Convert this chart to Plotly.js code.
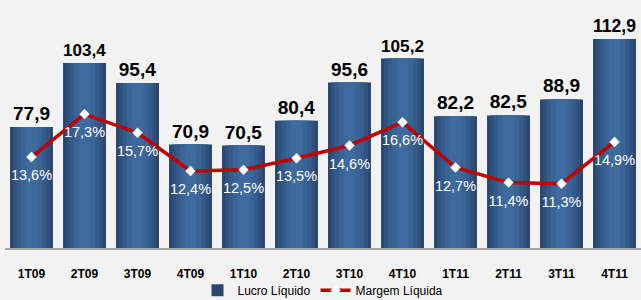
<!DOCTYPE html>
<html><head><meta charset="utf-8">
<script src="https://cdn.plot.ly/plotly-3.0.1.min.js"></script>
<style>html,body{margin:0;padding:0;background:#f2f2f2;}#chart{width:641px;height:300px;}</style>
</head><body><div id="chart"></div>
<script>
const categories = ["1T09","2T09","3T09","4T09","1T10","2T10","3T10","4T10","1T11","2T11","3T11","4T11"];
const lucroLiquido = [77.9,103.4,95.4,70.9,70.5,80.4,95.6,105.2,82.2,82.5,88.9,112.9];
const margemLiquida = [13.6,17.3,15.7,12.4,12.5,13.5,14.6,16.6,12.7,11.4,11.3,14.9];

const layers = [
  {w:0.81, c:"#2a4670"},
  {w:0.70, c:"#2f517e"},
  {w:0.56, c:"#355b8b"},
  {w:0.40, c:"#3a6496"},
  {w:0.22, c:"#3e6a9e"}
];
const traces = layers.map((l,i)=>({
  type:"bar", x:categories, y:lucroLiquido, width:l.w,
  marker:{color:l.c, line:{width:0}},
  name:"Lucro Líquido", showlegend:i===0, hoverinfo:"skip",
  texttemplate: i===0 ? "%{y:.1f}" : "", textposition: i===0 ? "outside" : "none",
  textfont:{family:"Liberation Sans, Arial, sans-serif", size:19, color:"#000000", weight:"bold"},
  cliponaxis:false
}));
traces.push({
  type:"scatter", mode:"lines+markers", x:categories, y:margemLiquida, yaxis:"y2",
  name:"Margem Líquida",
  line:{color:"#c00000", width:3.5},
  marker:{symbol:"diamond", size:8, color:"#ffffff", line:{width:0}},
  cliponaxis:false
});
traces.push({
  type:"scatter", mode:"markers+text", x:categories, y:margemLiquida, yaxis:"y2",
  showlegend:false, hoverinfo:"skip",
  marker:{size:18, opacity:0},
  texttemplate:"%{y:.1f}%", textposition:"bottom center",
  textfont:{family:"Liberation Sans, Arial, sans-serif", size:14.5, color:"#ffffff"},
  cliponaxis:false
});

const layout = {
  width:641, height:300,
  paper_bgcolor:"#f2f2f2", plot_bgcolor:"#f2f2f2",
  margin:{l:5, r:0, t:10, b:52, autoexpand:false},
  separators:",.",
  barmode:"overlay",
  showlegend:true,
  font:{family:"Liberation Sans, Arial, sans-serif"},
  xaxis:{type:"category", range:[-0.5, 11.5], autorange:false, showline:true, linecolor:"#a6a6a6", linewidth:2,
    ticks:"", ticklabelstandoff:14,
    tickfont:{family:"Liberation Sans, Arial, sans-serif", size:12, color:"#000", weight:"bold"},
    showgrid:false, zeroline:false},
  yaxis:{range:[29.7, 124.5], visible:false, showgrid:false, zeroline:false},
  yaxis2:{range:[5.76, 26.28], overlaying:"y", side:"right", visible:false, showgrid:false, zeroline:false},
  legend:{orientation:"h", x:0.5, xanchor:"center", y:-0.178, yanchor:"middle",
    font:{size:12, color:"#000"}, bgcolor:"rgba(0,0,0,0)", traceorder:"normal"}
};
Plotly.newPlot("chart", traces, layout, {displayModeBar:false, staticPlot:true});
</script></body></html>
